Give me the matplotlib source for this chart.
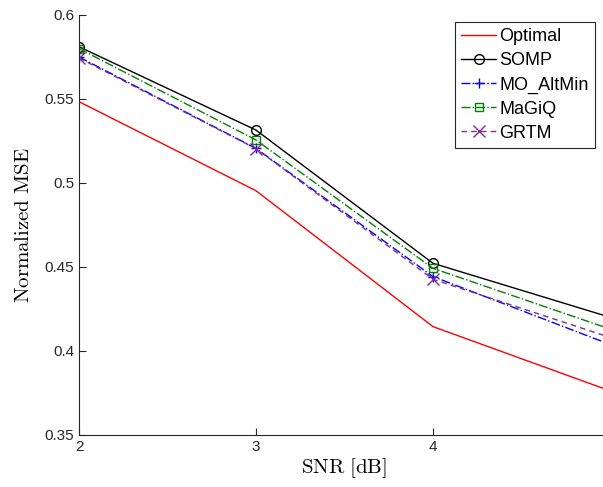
import matplotlib
matplotlib.use('Agg')
import matplotlib.pyplot as plt

snr = [2, 3, 4, 5]
optimal = [0.5484, 0.4954, 0.4145, 0.3763]
somp = [0.5811, 0.5315, 0.4522, 0.4201]
mo_altmin = [0.5750, 0.5206, 0.4443, 0.4039]
magiq = [0.5800, 0.5256, 0.4492, 0.4131]
grtm = [0.5744, 0.5204, 0.4427, 0.4081]

plt.rcParams['font.family'] = ['Liberation Sans', 'DejaVu Sans']
plt.rcParams['mathtext.fontset'] = 'cm'

fig = plt.figure(figsize=(6.03, 4.87), dpi=100)
# axes runs slightly past the right edge, like the cropped original
ax = fig.add_axes([79 / 603, 52 / 487, 531 / 603, 420 / 487])

lw = 1.0
ax.plot(snr, optimal, color='red', lw=lw, label='Optimal')
ax.plot(snr, somp, color='black', lw=lw, marker='o', ms=7, mfc='none', mew=1.0, label='SOMP')
ax.plot(snr, mo_altmin, color='blue', lw=lw, ls='-.', marker='+', ms=7, mew=1.0, label='MO_AltMin')
ax.plot(snr, magiq, color='#008000', lw=lw, ls='-.', marker='s', ms=6, mfc='none', mew=1.0, label='MaGiQ')
ax.plot(snr, grtm, color='#7E2F8E', lw=lw, ls='--', dashes=(4, 3), marker='x', ms=8, mew=1.0, label='GRTM')

ax.set_xlim(2, 5)
ax.set_ylim(0.35, 0.6)
ax.set_xticks([2, 3, 4])
ax.set_yticks([0.35, 0.4, 0.45, 0.5, 0.55, 0.6])
ax.set_yticklabels(['0.35', '0.4', '0.45', '0.5', '0.55', '0.6'])

for s in ['top', 'right']:
    ax.spines[s].set_visible(False)
for s in ['left', 'bottom']:
    ax.spines[s].set_color('#262626')
    ax.spines[s].set_linewidth(0.8)
ax.tick_params(direction='in', length=5, width=0.8, colors='#262626', labelsize=11)

ax.set_xlabel(r'$\mathrm{SNR\ [dB]}$', fontsize=15, labelpad=2)
ax.set_ylabel(r'$\mathrm{Normalized\ MSE}$', fontsize=15, labelpad=8)

leg = ax.legend(loc='upper right', bbox_to_anchor=(595 / 603, 1 - 22 / 487),
                bbox_transform=fig.transFigure, fontsize=13, fancybox=False,
                edgecolor='#262626', framealpha=1, handlelength=1.9,
                labelspacing=0.39, borderpad=0.35, handletextpad=0.2, borderaxespad=0)
leg.get_frame().set_linewidth(0.8)

fig.savefig('out.png', dpi=100)
